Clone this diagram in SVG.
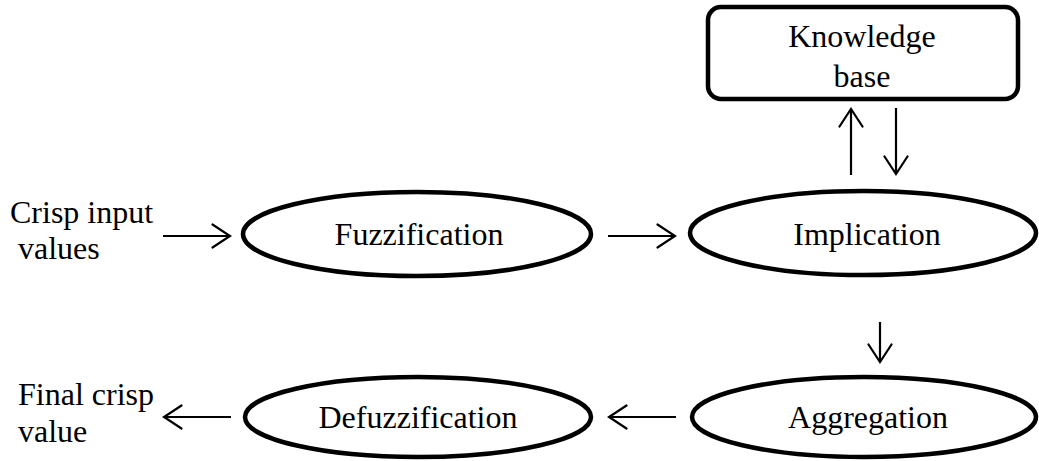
<svg xmlns="http://www.w3.org/2000/svg" width="1039" height="461" viewBox="0 0 1039 461">
  <defs>
    <!-- open V arrowhead used by every connector -->
    <marker id="open" viewBox="0 0 21 26" refX="19" refY="13" markerWidth="21" markerHeight="26" markerUnits="userSpaceOnUse" orient="auto">
      <path d="M1.5,1.5 L19,13 L1.5,24.5" fill="none" stroke="#000" stroke-width="2.2" stroke-linecap="round" stroke-linejoin="miter"/>
    </marker>
  </defs>
  <style>
    .shape { fill: #fff; stroke: #000; stroke-width: 4.5; }
    .label { font-family: "Liberation Serif", "Times New Roman", serif; font-size: 32px; fill: #000; }
    .mid { text-anchor: middle; }
    .conn { stroke: #000; stroke-width: 2.2; fill: none; marker-end: url(#open); }
  </style>
  <rect width="1039" height="461" fill="#fff"/>

  <g id="knowledge-base">
    <rect class="shape" x="708" y="7" width="310" height="92" rx="13" ry="13"/>
    <text class="label mid" x="862" y="47">Knowledge</text>
    <text class="label mid" x="862" y="87">base</text>
  </g>

  <g id="crisp-input">
    <text class="label" x="10" y="223">Crisp input</text>
    <text class="label" x="18" y="259">values</text>
  </g>

  <g id="fuzzification">
    <ellipse class="shape" cx="417" cy="234" rx="174" ry="42"/>
    <text class="label mid" x="419" y="245">Fuzzification</text>
  </g>

  <g id="implication">
    <ellipse class="shape" cx="863" cy="233" rx="173" ry="42"/>
    <text class="label mid" x="867" y="245">Implication</text>
  </g>

  <g id="aggregation">
    <ellipse class="shape" cx="864" cy="417" rx="172" ry="40"/>
    <text class="label mid" x="868" y="428">Aggregation</text>
  </g>

  <g id="defuzzification">
    <ellipse class="shape" cx="418" cy="417" rx="173" ry="40"/>
    <text class="label mid" x="418" y="428">Defuzzification</text>
  </g>

  <g id="final-crisp-value">
    <text class="label" x="18" y="405">Final crisp</text>
    <text class="label" x="18" y="442">value</text>
  </g>

  <g id="connectors">
    <line class="conn" x1="163" y1="236" x2="230" y2="236"/>
    <line class="conn" x1="608" y1="236" x2="675" y2="236"/>
    <line class="conn" x1="851" y1="175" x2="851" y2="109"/>
    <line class="conn" x1="896" y1="108" x2="896" y2="174"/>
    <line class="conn" x1="880" y1="322" x2="880" y2="362"/>
    <line class="conn" x1="676" y1="417" x2="609" y2="417"/>
    <line class="conn" x1="231" y1="417" x2="164" y2="417"/>
  </g>
</svg>
